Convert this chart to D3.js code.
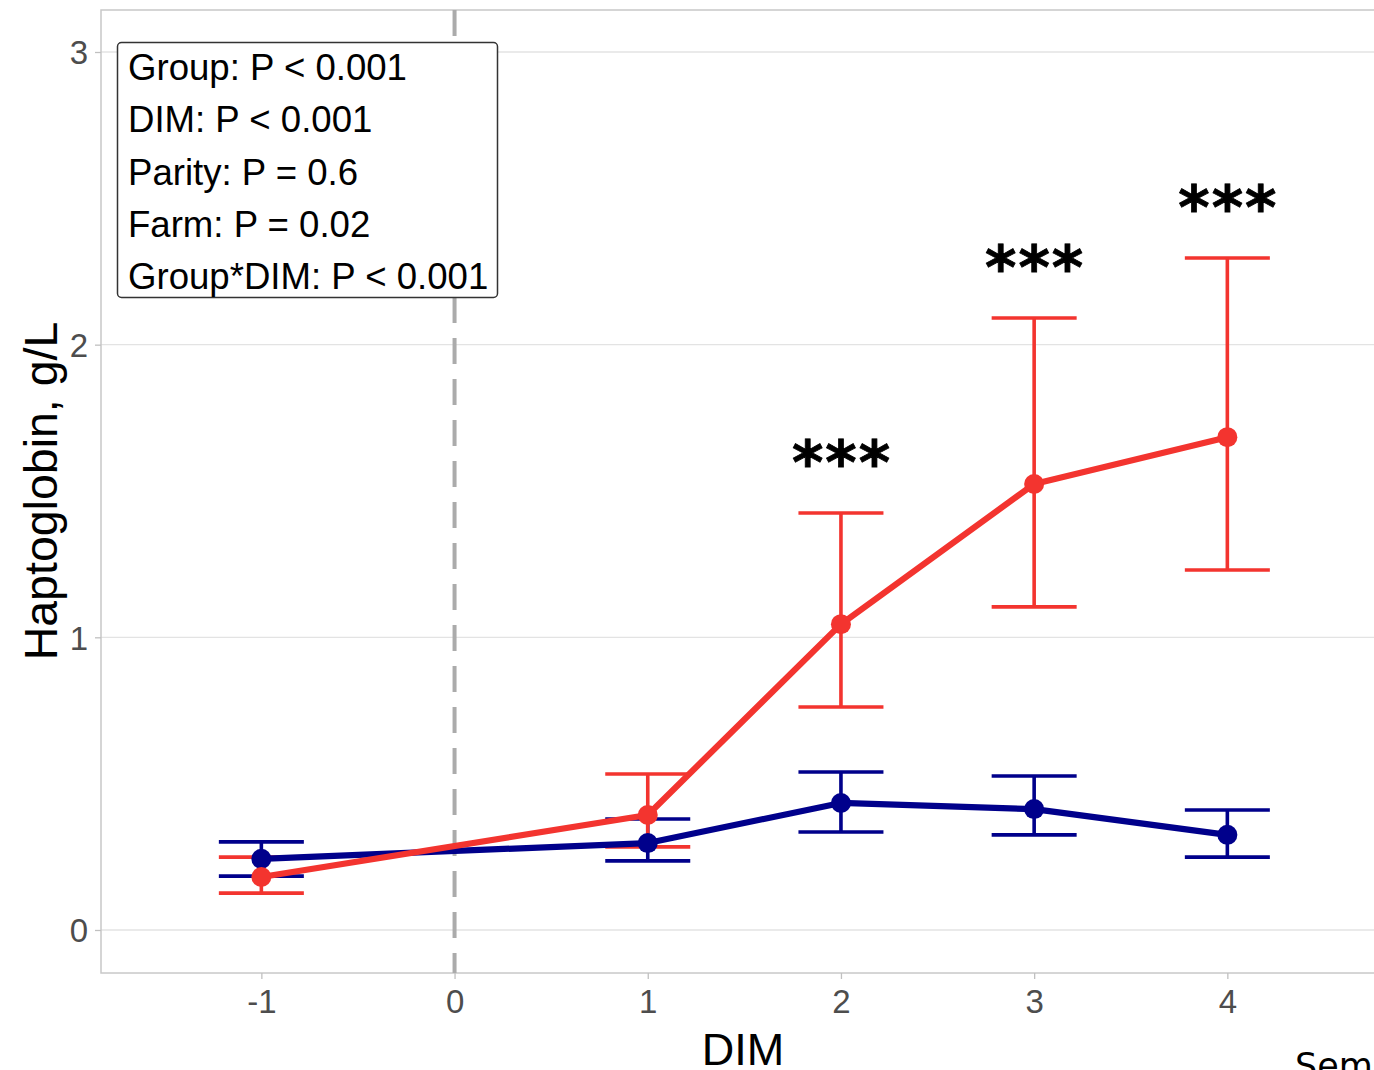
<!DOCTYPE html>
<html>
<head>
<meta charset="utf-8">
<script src="https://cdn.jsdelivr.net/npm/d3@7"></script>
<style>
  body { margin: 0; background: #fff; }
  svg { display: block; }
</style>
</head>
<body>
<div id="chart"></div>
<script>
// Data
var dimValues = [-1, 1, 2, 3, 4];
var redMean  = [0.181, 0.393, 1.045, 1.524, 1.684];
var redLower = [0.126, 0.284, 0.762, 1.104, 1.230];
var redUpper = [0.249, 0.533, 1.425, 2.091, 2.296];
var blueMean  = [0.243, 0.297, 0.434, 0.413, 0.325];
var blueLower = [0.184, 0.236, 0.335, 0.325, 0.249];
var blueUpper = [0.301, 0.379, 0.540, 0.526, 0.410];
var sigDims = [2, 3, 4];
var sigLabel = "***";
var xTicks = [-1, 0, 1, 2, 3, 4];
var yTicks = [0, 1, 2, 3];
var statLines = [
  "Group: P < 0.001",
  "DIM: P < 0.001",
  "Parity: P = 0.6",
  "Farm: P = 0.02",
  "Group*DIM: P < 0.001"
];

var svgWidth = 1374;
var svgHeight = 1070;

var panel = { left: 101, top: 10, right: 1385, bottom: 973 };

var svg = d3.select("#chart")
  .append("svg")
  .attr("width", svgWidth)
  .attr("height", svgHeight);

var x = d3.scaleLinear().domain([-1.83, 4.816]).range([panel.left, panel.right]);
var y = d3.scaleLinear().domain([-0.147, 3.1435]).range([panel.bottom, panel.top]);

var sansFont = "'Liberation Sans', Arial, sans-serif";

// grid lines
svg.append("g")
  .selectAll("line")
  .data(yTicks)
  .enter()
  .append("line")
  .attr("x1", panel.left)
  .attr("x2", panel.right)
  .attr("y1", d => y(d))
  .attr("y2", d => y(d))
  .attr("stroke", "#e3e3e3")
  .attr("stroke-width", 1.3);

// panel border
svg.append("rect")
  .attr("x", panel.left)
  .attr("y", panel.top)
  .attr("width", panel.right - panel.left)
  .attr("height", panel.bottom - panel.top)
  .attr("fill", "none")
  .attr("stroke", "#c8c8c8")
  .attr("stroke-width", 1.5);

// axes
var xAxis = svg.append("g")
  .attr("transform", `translate(0, ${panel.bottom})`)
  .call(d3.axisBottom(x).tickValues(xTicks).tickSize(6).tickPadding(8).tickFormat(d => String(d)));

var yAxis = svg.append("g")
  .attr("transform", `translate(${panel.left}, 0)`)
  .call(d3.axisLeft(y).tickValues(yTicks).tickSize(6).tickPadding(7).tickFormat(d => String(d)));

[xAxis, yAxis].forEach(function(ax) {
  ax.select(".domain").remove();
  ax.selectAll(".tick line").attr("stroke", "#c0c0c0").attr("stroke-width", 1.3);
  ax.selectAll(".tick text")
    .attr("fill", "#4d4d4d")
    .style("font-family", sansFont)
    .style("font-size", "33px");
});
yAxis.selectAll(".tick text").attr("dy", "0.36em");
xAxis.selectAll(".tick text").attr("dy", "0.78em");

// vertical dashed line at calving
svg.append("line")
  .attr("x1", x(0))
  .attr("x2", x(0))
  .attr("y1", panel.top)
  .attr("y2", panel.bottom)
  .attr("stroke", "#ababab")
  .attr("stroke-width", 4)
  .attr("stroke-dasharray", "26,15");

// build series
var series = [
  { color: "#00008b", mean: blueMean, lower: blueLower, upper: blueUpper },
  { color: "#f3342f", mean: redMean, lower: redLower, upper: redUpper }
];
series.forEach(function(s) {
  s.rows = dimValues.map((d, i) => ({ dim: d, mean: s.mean[i], lo: s.lower[i], hi: s.upper[i] }));
});

var capHalf = 0.22;

// error bars
series.forEach(function(s) {
  var g = svg.append("g").attr("stroke", s.color).attr("stroke-width", 3.6).attr("fill", "none");
  g.selectAll("path")
    .data(s.rows)
    .enter()
    .append("path")
    .attr("d", d =>
      `M${x(d.dim - capHalf)},${y(d.hi)}H${x(d.dim + capHalf)}` +
      `M${x(d.dim)},${y(d.hi)}V${y(d.lo)}` +
      `M${x(d.dim - capHalf)},${y(d.lo)}H${x(d.dim + capHalf)}`);
});

// lines
var line = d3.line().x(d => x(d.dim)).y(d => y(d.mean));
series.forEach(function(s) {
  svg.append("path")
    .datum(s.rows)
    .attr("d", line)
    .attr("fill", "none")
    .attr("stroke", s.color)
    .attr("stroke-width", 6.2)
    .attr("stroke-linejoin", "round");
});

// points
series.forEach(function(s) {
  svg.append("g")
    .selectAll("circle")
    .data(s.rows)
    .enter()
    .append("circle")
    .attr("cx", d => x(d.dim))
    .attr("cy", d => y(d.mean))
    .attr("r", 10)
    .attr("fill", s.color);
});

// significance stars above the red upper bars
svg.append("g")
  .selectAll("text")
  .data(sigDims)
  .enter()
  .append("text")
  .attr("x", d => x(d) + 1)
  .attr("y", d => y(redUpper[dimValues.indexOf(d)] + 0.2))
  .attr("dy", "0.5em")
  .attr("text-anchor", "middle")
  .style("font-family", "'DejaVu Sans', sans-serif")
  .style("font-weight", "bold")
  .style("font-size", "60px")
  .style("letter-spacing", "2px")
  .style("stroke", "#000")
  .style("stroke-width", 0.8)
  .text(sigLabel);

// stats box
var box = svg.append("g");
box.append("rect")
  .attr("x", 117.5)
  .attr("y", 42.5)
  .attr("width", 380)
  .attr("height", 255)
  .attr("rx", 4)
  .attr("fill", "#fff")
  .attr("stroke", "#333")
  .attr("stroke-width", 1.5);
box.selectAll("text")
  .data(statLines)
  .enter()
  .append("text")
  .attr("x", 128)
  .attr("y", (d, i) => 80 + i * 52.3)
  .style("font-family", sansFont)
  .style("font-size", "36.6px")
  .attr("fill", "#000")
  .text(d => d);

// axis titles
svg.append("text")
  .attr("x", 743)
  .attr("y", 1065)
  .attr("text-anchor", "middle")
  .style("font-family", sansFont)
  .style("font-size", "45px")
  .text("DIM");

svg.append("text")
  .attr("transform", `translate(57, 491) rotate(-90)`)
  .attr("text-anchor", "middle")
  .style("font-family", sansFont)
  .style("font-size", "46.5px")
  .text("Haptoglobin, g/L");

// clipped caption at the bottom right
svg.append("text")
  .attr("x", 1295)
  .attr("y", 1078)
  .style("font-family", "'DejaVu Sans', sans-serif")
  .style("font-size", "35px")
  .text("Sem");
</script>
</body>
</html>
